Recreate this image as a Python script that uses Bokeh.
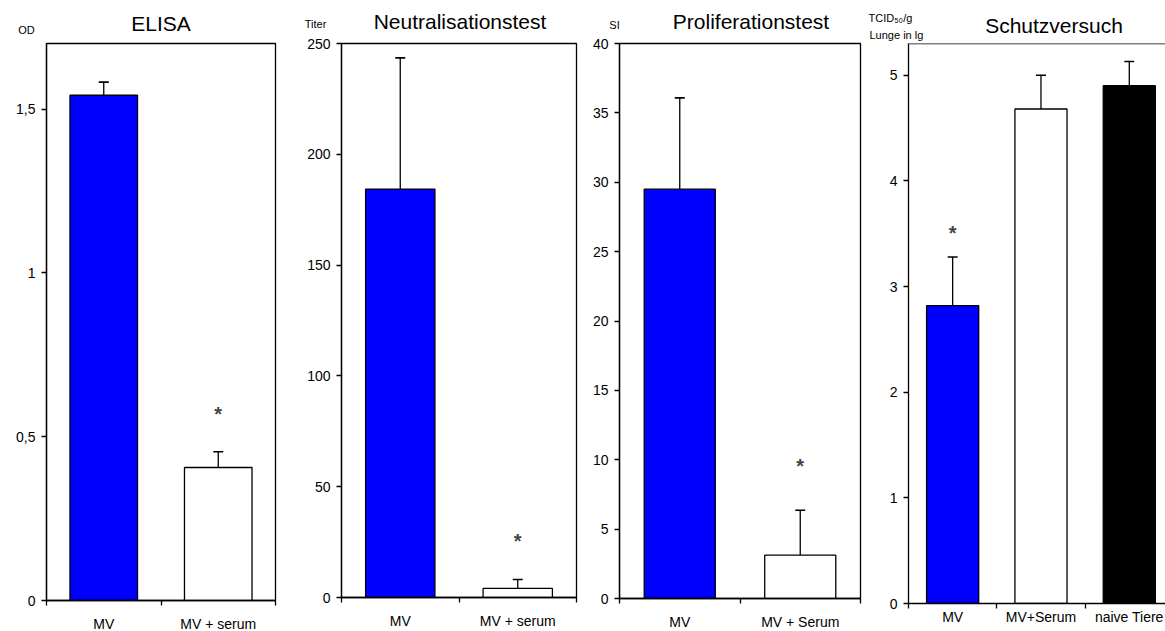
from bokeh.plotting import figure
from bokeh.layouts import row, column
from bokeh.models import (ColumnDataSource, FixedTicker, Label, Span,
                          CustomJSTickFormatter)
from bokeh.core.properties import value
from bokeh.embed import file_html
from bokeh.resources import INLINE

FONT = "Liberation Sans"

# ELISA: optical density
elisa_groups = ["MV", "MV + serum"]
elisa_od = [1.542, 0.406]
elisa_err = [0.040, 0.048]
elisa_sig = [False, True]

# Neutralisation test: titre
neut_groups = ["MV", "MV + serum"]
neut_titer = [184.3, 4.1]
neut_err = [59.2, 4.0]
neut_sig = [False, True]

# Proliferation test: stimulation index
prolif_groups = ["MV", "MV + Serum"]
prolif_si = [29.5, 3.12]
prolif_err = [6.58, 3.24]
prolif_sig = [False, True]

# Challenge experiment: TCID50/g lung (log10)
schutz_groups = ["MV", "MV+Serum", "naive Tiere"]
schutz_lg = [2.82, 4.68, 4.90]
schutz_err = [0.46, 0.32, 0.23]
schutz_sig = [True, False, False]

BLUE, WHITE, BLACK = "#0000FF", "#FFFFFF", "#000000"

PAGE_H = 631
FRAME_TOP = 43         # page y of the top edge of every plot frame


def panel(groups, vals, errs, sig, colors, y_end, yticks,
          frame_w, frame_h, border_l, border_r, header_h, x_end=None,
          star_dy=40, cat_standoff=10, outline=True):
    n = len(groups)
    x_end = n if x_end is None else x_end
    p = figure(frame_width=frame_w, frame_height=frame_h,
               x_range=(0, x_end), y_range=(0, y_end),
               output_backend="svg", toolbar_location=None,
               min_border_left=border_l, min_border_right=border_r,
               min_border_top=FRAME_TOP - header_h,
               min_border_bottom=PAGE_H - FRAME_TOP - frame_h)
    p.grid.visible = False
    p.background_fill_color = WHITE
    p.border_fill_color = WHITE
    p.outline_line_color = BLACK if outline else None
    p.outline_line_width = 1.3

    xs = [i + 0.5 for i in range(n)]
    src = ColumnDataSource(dict(
        x=xs, top=vals, err_top=[v + e for v, e in zip(vals, errs)],
        color=colors))
    p.segment(x0="x", y0="top", x1="x", y1="err_top", source=src,
              line_color=BLACK, line_width=1.3)
    p.scatter(x="x", y="err_top", marker="dash", size=10, source=src,
              line_color=BLACK, line_width=1.6)
    p.vbar(x="x", top="top", bottom=0, width=0.59, source=src,
           fill_color="color", line_color=BLACK, line_width=1.3)

    # significance marks above the error bars
    for xi, v, e, s in zip(xs, vals, errs, sig):
        if s:
            p.add_layout(Label(x=xi, y=v + e, y_offset=star_dy, text="*",
                               text_align="center", text_baseline="middle",
                               text_font=FONT, text_font_size="20px",
                               text_font_style="bold"))

    # category axis: labels under bars, tick marks between categories
    xa = p.xaxis[0]
    xa.ticker = FixedTicker(ticks=xs, minor_ticks=list(range(n + 1)))
    xa.formatter = CustomJSTickFormatter(args=dict(labels=groups),
                                         code="return labels[index]")
    xa.major_tick_out = 0
    xa.major_tick_in = 0
    xa.minor_tick_out = 5
    xa.minor_tick_in = 0
    xa.axis_line_width = 1.3
    xa.minor_tick_line_width = 1.3
    xa.major_label_standoff = cat_standoff
    xa.major_label_text_font = FONT
    xa.major_label_text_font_size = "14px"
    xa.major_label_text_color = BLACK

    ya = p.yaxis[0]
    ya.ticker = FixedTicker(ticks=yticks, minor_ticks=[])
    ya.formatter = CustomJSTickFormatter(
        code="return tick.toString().replace('.', ',')")
    ya.major_tick_out = 5
    ya.major_tick_in = 0
    ya.minor_tick_line_color = None
    ya.axis_line_width = 1.3
    ya.major_tick_line_width = 1.3
    ya.major_label_standoff = 6
    ya.major_label_text_font = FONT
    ya.major_label_text_font_size = "14px"
    ya.major_label_text_color = BLACK

    if not outline:
        p.add_layout(Span(location=y_end, dimension="width",
                          line_color=BLACK, line_width=1.3))
    return p


def header(x_start, width, height, title, title_x, title_y,
           units, unit_x, unit_y, unit_align):
    """Strip above a panel with its title and y-unit caption (page px)."""
    h = figure(frame_width=width, frame_height=height,
               x_range=(x_start, x_start + width), y_range=(height, 0),
               output_backend="svg", toolbar_location=None,
               x_axis_location=None, y_axis_location=None, min_border=0)
    h.grid.visible = False
    h.outline_line_color = None
    h.border_fill_color = WHITE
    h.text(x=[title_x], y=[title_y], text=[title], text_align="center",
           text_baseline="middle", text_font=value(FONT),
           text_font_size="21px", text_color=BLACK)
    h.text(x=unit_x, y=unit_y, text=units, text_align=unit_align,
           text_baseline="middle", text_font=value(FONT),
           text_font_size="11px", text_color=BLACK)
    return h


# frame geometry per panel: (border_left, frame_width, border_right)
geo = [(46, 229, 15), (51, 235, 4), (39, 241, 3), (45, 257, 0)]
header_h = [36, 34, 34, 42]
starts, frame_left, widths = [], [], []
x0 = 0
for bl, fw, br in geo:
    starts.append(x0)
    frame_left.append(x0 + bl)
    widths.append(bl + fw + br)
    x0 += bl + fw + br

p1 = panel(elisa_groups, elisa_od, elisa_err, elisa_sig, [BLUE, WHITE],
           1.7, [0, 0.5, 1, 1.5], frame_w=229, frame_h=557,
           border_l=46, border_r=15, header_h=header_h[0], star_dy=38)

p2 = panel(neut_groups, neut_titer, neut_err, neut_sig, [BLUE, WHITE],
           250, [0, 50, 100, 150, 200, 250], frame_w=235, frame_h=554,
           border_l=51, border_r=4, header_h=header_h[1], star_dy=39)

p3 = panel(prolif_groups, prolif_si, prolif_err, prolif_sig, [BLUE, WHITE],
           40, [0, 5, 10, 15, 20, 25, 30, 35, 40], frame_w=241, frame_h=555,
           border_l=39, border_r=3, header_h=header_h[2], star_dy=44)

# the challenge panel runs off the right edge of the page
p4 = panel(schutz_groups, schutz_lg, schutz_err, schutz_sig,
           [BLUE, WHITE, BLACK], 5.3, [0, 1, 2, 3, 4, 5], frame_w=257,
           frame_h=560, border_l=45, border_r=0, header_h=header_h[3],
           x_end=2.91, star_dy=24, cat_standoff=0, outline=False)


def mid(i, dx=0):
    return frame_left[i] + geo[i][1] / 2 + dx


h1 = header(starts[0], widths[0], header_h[0], "ELISA", mid(0), 22.5,
            ["OD"], [frame_left[0] - 20], [29], "center")
h2 = header(starts[1], widths[1], header_h[1], "Neutralisationstest",
            mid(1, 1), 21, ["Titer"], [frame_left[1] - 26], [23.5],
            "center")
h3 = header(starts[2], widths[2], header_h[2], "Proliferationstest",
            mid(2, 11), 21, ["SI"], [frame_left[2] - 5], [24], "center")
h4 = header(starts[3], widths[3], header_h[3], "Schutzversuch",
            mid(3, 17), 25, ["TCID\u2085\u2080/g", "Lunge in lg"],
            [frame_left[3] - 40, frame_left[3] - 39], [17.5, 34], "left")

# headers are wrapped in their own row so their frames are not aligned
# with the frames of the panels beneath them
cols = [column(row(h, spacing=0), p, spacing=0)
        for h, p in zip([h1, h2, h3, h4], [p1, p2, p3, p4])]
layout = row(*cols, spacing=0)
open("out.html", "w").write(file_html(layout, INLINE))
